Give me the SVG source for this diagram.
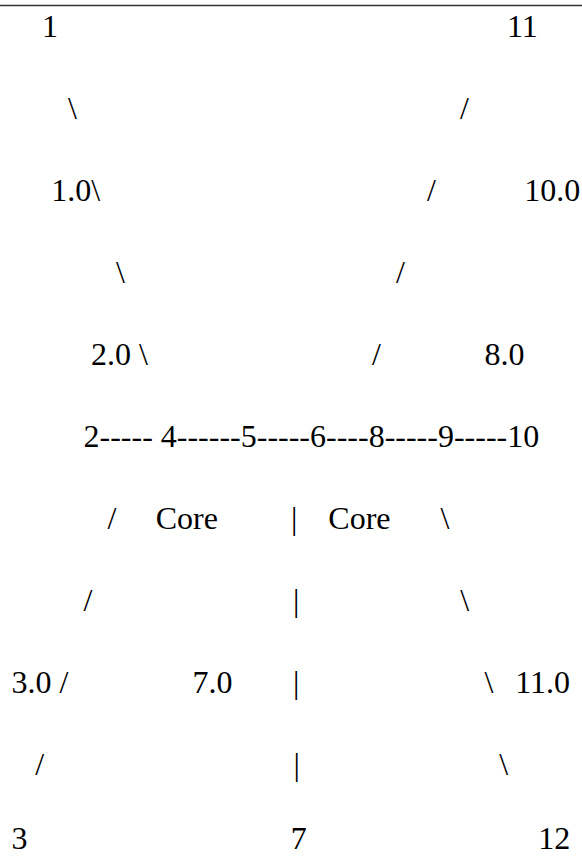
<svg xmlns="http://www.w3.org/2000/svg" width="582" height="856" viewBox="0 0 582 856">
<style>
text { font-family: "Liberation Serif", "Times New Roman", serif; font-size: 32px; fill: #000; white-space: pre; }
</style>
<rect width="582" height="856" fill="#fff"/>
<line x1="0" y1="5.5" x2="582" y2="5.5" stroke="#333" stroke-width="1.6"/>
<g id="nodes">
  <g id="node-1"><text x="42" y="37">1</text></g>
  <g id="node-11"><text x="507" y="37">11</text></g>
  <g id="node-chain"><text x="83.5" y="447">2----- 4------5-----6----8-----9-----10</text></g>
  <g id="node-3"><text x="11.5" y="849">3</text></g>
  <g id="node-7"><text x="290.8" y="849">7</text></g>
  <g id="node-12"><text x="538.3" y="849">12</text></g>
</g>
<g id="labels">
  <text x="51.3" y="201">1.0\</text>
  <text x="524.2" y="201">10.0</text>
  <text x="91" y="365">2.0 \</text>
  <text x="484.5" y="365">8.0</text>
  <text x="155.7" y="529">Core</text>
  <text x="328.3" y="529">Core</text>
  <text x="11.5" y="693">3.0 /</text>
  <text x="192.4" y="693">7.0</text>
  <text x="515.3" y="693">11.0</text>
</g>
<g id="connectors">
  <text x="68" y="119">\</text>
  <text x="460" y="119">/</text>
  <text x="427" y="201">/</text>
  <text x="116" y="283">\</text>
  <text x="396" y="283">/</text>
  <text x="372" y="365">/</text>
  <text x="107.6" y="529">/</text>
  <text x="291" y="529">|</text>
  <text x="440.6" y="529">\</text>
  <text x="83.5" y="611">/</text>
  <text x="293" y="611">|</text>
  <text x="460.3" y="611">\</text>
  <text x="293" y="693">|</text>
  <text x="484.4" y="693">\</text>
  <text x="35.3" y="775">/</text>
  <text x="293.5" y="775">|</text>
  <text x="499.3" y="775">\</text>
</g>
</svg>
